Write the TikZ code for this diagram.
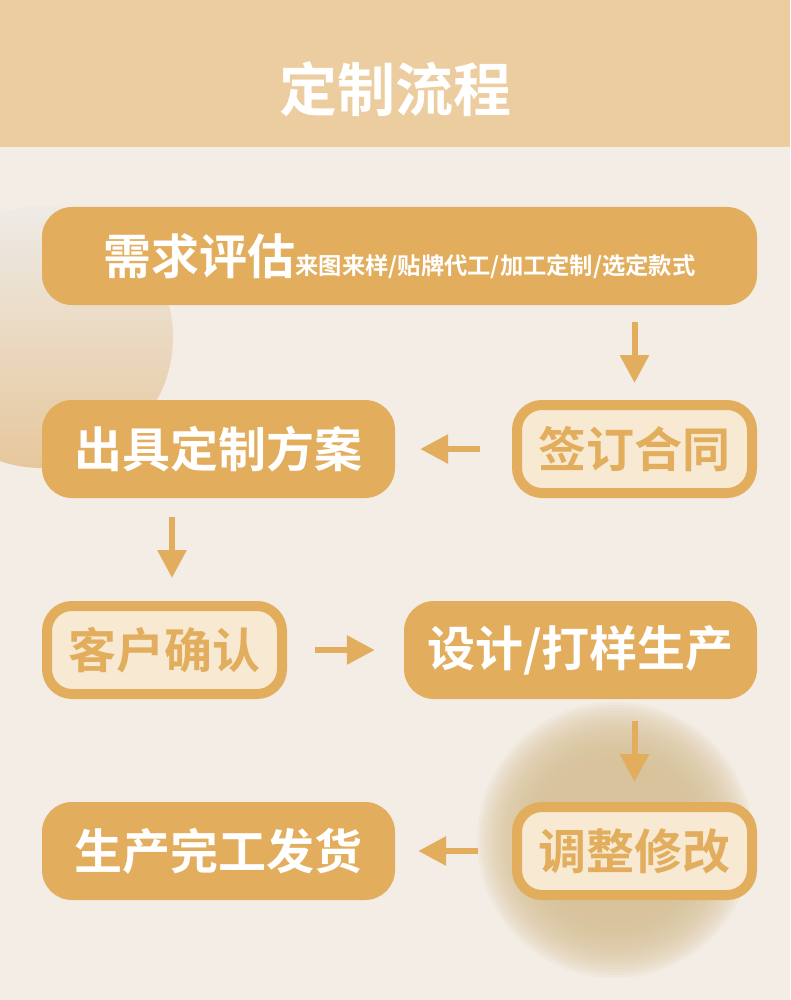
\documentclass[tikz,border=0pt]{standalone}
\usepackage{fontspec}
\usetikzlibrary{arrows.meta}
\newfontfamily\cjk{Noto Sans CJK SC}[BoldFont={* Bold}]
\definecolor{bg}{HTML}{F3EDE5}
\definecolor{hdr}{HTML}{ECCD9F}
\definecolor{gold}{HTML}{E2AE5E}
\definecolor{pale}{HTML}{F8E9D3}
\definecolor{blob}{HTML}{D8C398}
\definecolor{ctop}{HTML}{EEEBE7}
\definecolor{cbot}{HTML}{E6C79C}
\begin{document}
\begin{tikzpicture}[x=1pt,y=-1pt,
  solidbox/.style={fill=gold, rounded corners=30pt, minimum height=98pt, inner sep=0pt,
    text=white, font=\cjk\bfseries\fontsize{48}{48}\selectfont},
  outlbox/.style={draw=gold, line width=10pt, fill=pale, rounded corners=25pt,
    minimum width=235pt, minimum height=88pt, inner sep=0pt,
    text=gold, font=\cjk\bfseries\fontsize{48}{48}\selectfont},
  arr/.style={draw=gold, line width=6pt, -{Triangle[width=28pt,length=28pt]}}]
\useasboundingbox (0,0) rectangle (790,1000);
\fill[bg] (0,0) rectangle (790,1000);
% decorative circles
\shade[top color=ctop, bottom color=cbot] (42,337) circle (131);
\foreach \r in {138,135,...,80} \fill[blob, opacity=0.11] (615,840) circle (\r);
% header
\fill[hdr] (0,0) rectangle (790,147);
\node[text=white, font=\cjk\bfseries\fontsize{58}{58}\selectfont] (title) at (395,89) {定制流程};
% boxes
\node[solidbox, minimum width=715pt] (b1) at (399.5,256)
  {需求评估{\fontsize{23.3}{23.3}\selectfont 来图来样/贴牌代工/加工定制/选定款式}};
\node[solidbox, minimum width=353pt] (b2) at (218.5,449) {出具定制方案};
\node[outlbox] (b3) at (634.5,449) {签订合同};
\node[outlbox] (b4) at (164.5,650) {客户确认};
\node[solidbox, minimum width=353pt] (b5) at (580.5,650) {设计/打样生产};
\node[outlbox] (b6) at (634.5,851) {调整修改};
\node[solidbox, minimum width=353pt] (b7) at (218.5,851) {生产完工发货};
% arrows
\coordinate (ax2) at (172,0);
\draw[arr, shorten <=17pt, shorten >=17pt] (b1.south -| b3.north) -- (b3.north);
\draw[arr, shorten <=32pt, shorten >=25pt] (b3.west) -- (b2.east);
\draw[arr, shorten <=19pt, shorten >=23pt] (b2.south -| ax2) -- (b4.north -| ax2);
\draw[arr, shorten <=28pt, shorten >=29pt] (b4.east) -- (b5.west);
\draw[arr, shorten <=22pt, shorten >=20pt] (b5.south -| b6.north) -- (b6.north);
\draw[arr, shorten <=34pt, shorten >=23pt] (b6.west) -- (b7.east);
\end{tikzpicture}
\end{document}
